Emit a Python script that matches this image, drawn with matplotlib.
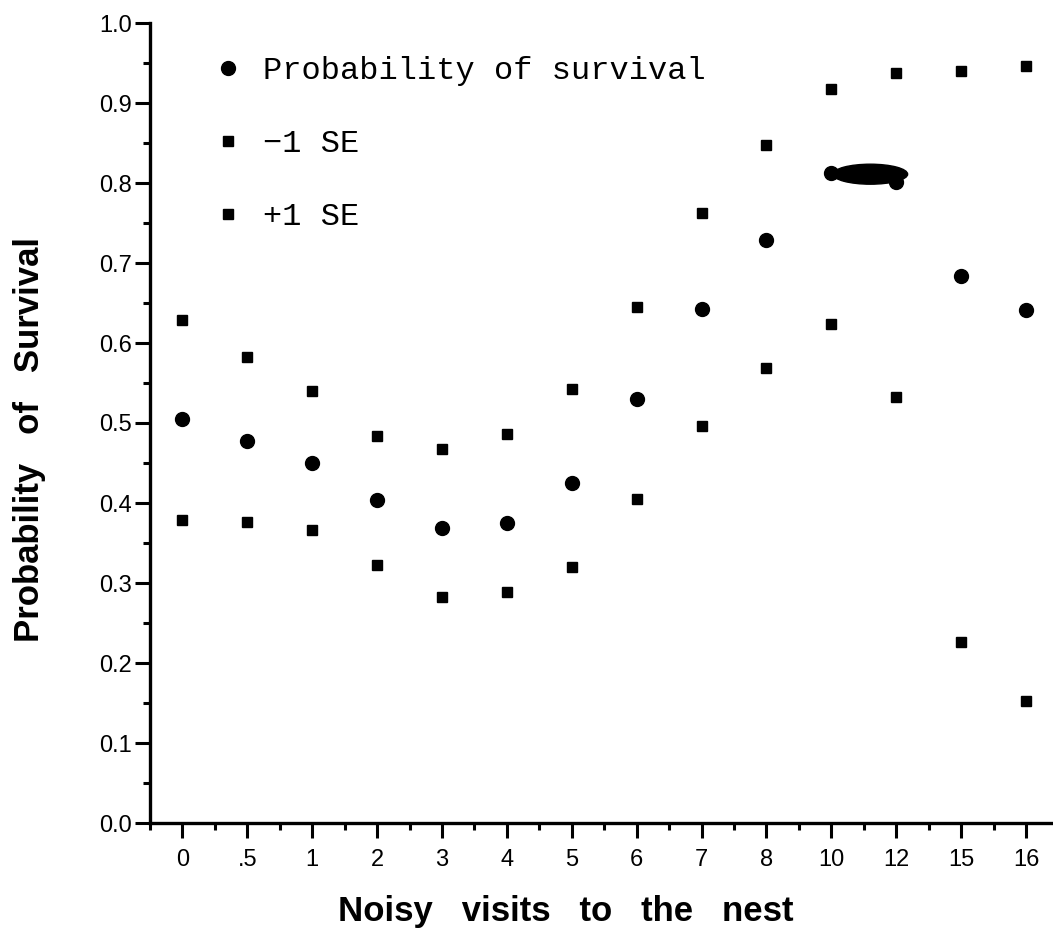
import numpy as np
import matplotlib
matplotlib.use("Agg")
import matplotlib.pyplot as plt
from matplotlib.patches import Ellipse
from matplotlib.ticker import MultipleLocator, FormatStrFormatter

# noisy visits to the nest (categorical, evenly spaced)
visits = ["0", ".5", "1", "2", "3", "4", "5", "6", "7", "8", "10", "12", "15", "16"]
survival = [0.505, 0.477, 0.450, 0.404, 0.369, 0.375, 0.425, 0.530, 0.642, 0.729,
            0.812, 0.801, 0.684, 0.641]
minus_se = [0.379, 0.376, 0.366, 0.322, 0.283, 0.289, 0.320, 0.405, 0.496, 0.569,
            0.624, 0.533, 0.226, 0.153]
plus_se = [0.629, 0.583, 0.540, 0.484, 0.468, 0.486, 0.543, 0.645, 0.763, 0.848,
           0.918, 0.938, 0.940, 0.946]

x = np.arange(len(visits))

fig = plt.figure(figsize=(10.53, 9.48), dpi=100)
ax = fig.add_axes([150/1053, 1-823/948, 1-150/1053, 800/948])

ax.plot(x, survival, 'o', color='black', markersize=10, label='Probability of survival')
ax.plot(x, minus_se, 's', color='black', markersize=6.5, label='\u22121 SE')
ax.plot(x, plus_se, 's', color='black', markersize=6.5, label='+1 SE')

# blot between 10 and 12
ax.add_patch(Ellipse((10.6, 0.811), 1.15, 0.025, color='black'))

ax.set_xlim(-0.477, 13.415)
ax.set_ylim(0, 1.0)

ax.set_xticks(x)
ax.set_xticklabels(visits)
ax.set_xticks(x - 0.5, minor=True)
ax.yaxis.set_major_locator(MultipleLocator(0.1))
ax.yaxis.set_minor_locator(MultipleLocator(0.05))
ax.yaxis.set_major_formatter(FormatStrFormatter('%.1f'))

for s in ['top', 'right']:
    ax.spines[s].set_visible(False)
for s in ['left', 'bottom']:
    ax.spines[s].set_linewidth(2.4)

ax.tick_params(which='major', length=11, width=2.2, direction='out', labelsize=17)
ax.tick_params(which='minor', length=5, width=2.2, direction='out')
ax.tick_params(axis='x', pad=8)
ax.tick_params(axis='y', pad=2)
for lab in ax.get_xticklabels() + ax.get_yticklabels():
    lab.set_fontfamily('Liberation Sans')

ax.set_ylabel('Probability   of   Survival', fontsize=25, fontweight='bold',
              family='Liberation Sans')
ax.set_xlabel('Noisy   visits   to   the   nest', fontsize=25, fontweight='bold',
              family='Liberation Sans')
ax.yaxis.set_label_coords(-0.115, 0.48)
ax.xaxis.set_label_coords(0.46, -0.09)

ax.legend(loc='upper left', bbox_to_anchor=(0.04, 0.995), frameon=False,
          prop={'family': 'Liberation Mono', 'size': 23}, handlelength=0.8,
          handletextpad=0.7, labelspacing=1.35, numpoints=1)

fig.savefig('out.png', dpi=100, facecolor='white')
